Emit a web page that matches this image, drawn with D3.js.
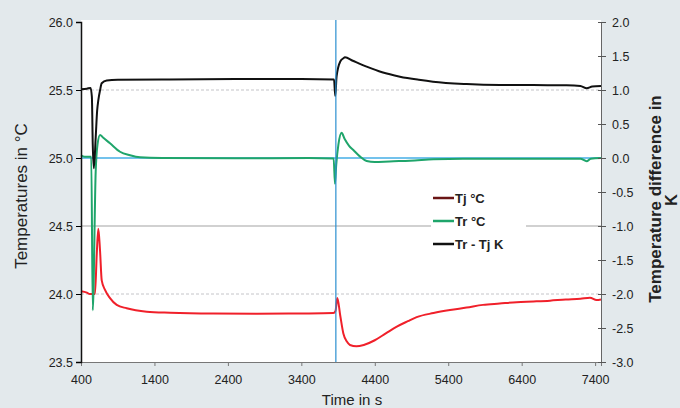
<!DOCTYPE html>
<html lang="en">
<head>
<meta charset="utf-8">
<script src="https://cdn.jsdelivr.net/npm/d3@7"></script>
<style>
  body { margin: 0; background: #e3e9ec; }
  text { font-family: "Liberation Sans", Arial, sans-serif; fill: #222; }
</style>
</head>
<body>
<script type="text/javascript">
  var w = 680;
  var h = 408;

  // time in s
  var xTicks = [400, 1400, 2400, 3400, 4400, 5400, 6400, 7400];
  var leftTicks = [23.5, 24.0, 24.5, 25.0, 25.5, 26.0];
  var rightTicks = [-3.0, -2.5, -2.0, -1.5, -1.0, -0.5, 0.0, 0.5, 1.0, 1.5, 2.0];
  var gridDashed = [25.5, 24.0];
  var gridSolid = [24.5];
  var baseLine = 25.0;
  var markerTime = 3870;

  // Tj in °C (left axis)
  var tjTime = [400, 480, 520, 590, 615, 636, 659, 682, 727, 795, 886, 1022, 1294, 1612, 2200, 2800, 3400, 3835, 3865, 3890, 3930, 3972, 4020, 4062, 4150, 4250, 4400, 4550, 4700, 4850, 4970, 5200, 5424, 5650, 5873, 6100, 6331, 6560, 6785, 7000, 7200, 7330, 7420, 7480];
  var tjVal  = [24.02, 24.01, 24.0, 24.0, 24.3, 24.48, 24.32, 24.1, 24.03, 23.97, 23.92, 23.895, 23.87, 23.862, 23.856, 23.855, 23.857, 23.86, 23.875, 23.97, 23.84, 23.71, 23.65, 23.625, 23.615, 23.625, 23.66, 23.71, 23.76, 23.8, 23.83, 23.86, 23.882, 23.9, 23.92, 23.93, 23.94, 23.945, 23.951, 23.96, 23.965, 23.973, 23.955, 23.96];

  // Tr in °C (left axis)
  var trTime = [400, 450, 540, 560, 600, 625, 659, 700, 795, 931, 1067, 1203, 1500, 2500, 3500, 3840, 3858, 3875, 3905, 3948, 3990, 4050, 4108, 4200, 4289, 4400, 4600, 4879, 5200, 5600, 6500, 7200, 7285, 7340, 7480];
  var trVal  = [25.02, 25.01, 25.01, 23.88, 24.9, 25.1, 25.17, 25.15, 25.108, 25.046, 25.02, 25.005, 25.0, 24.998, 25.0, 24.997, 24.81, 24.95, 25.1, 25.185, 25.14, 25.09, 25.059, 25.01, 24.978, 24.97, 24.975, 24.98, 24.99, 24.995, 24.995, 24.995, 24.976, 24.995, 25.0];

  // Tr - Tj in K (right axis)
  var dTime = [400, 480, 530, 548, 560, 575, 600, 620, 636, 660, 682, 750, 900, 1500, 2500, 3400, 3845, 3862, 3880, 3930, 3972, 3994, 4100, 4289, 4500, 4743, 5000, 5192, 5650, 6104, 6554, 7012, 7200, 7285, 7360, 7480];
  var dVal  = [1.01, 1.02, 1.03, 0.9, 0.2, -0.15, 0.3, 0.7, 0.85, 1.0, 1.1, 1.14, 1.15, 1.155, 1.16, 1.16, 1.155, 0.91, 1.2, 1.42, 1.466, 1.48, 1.43, 1.343, 1.26, 1.196, 1.15, 1.122, 1.088, 1.074, 1.072, 1.069, 1.06, 1.025, 1.05, 1.06];

  var legendNames = ["Tj  °C", "Tr °C", "Tr - Tj  K"];
  var colors = ["#f0202a", "#1fa56b", "#111111"];
  var legendColors = ["#6a1515", "#1fa56b", "#111111"];

  var mLeft = 81, mRight = 601, mTop = 22, mBottom = 362;

  var svg = d3.select("body")
          .append("svg")
          .attr("width", w)
          .attr("height", h);

  var x = d3.scaleLinear().domain([400, 7480]).range([mLeft, mRight]);
  var yL = d3.scaleLinear().domain([23.5, 26.0]).range([mBottom, mTop]);
  var yR = d3.scaleLinear().domain([-3.0, 2.0]).range([mBottom, mTop]);

  // plot area
  svg.append("rect")
    .attr("x", mLeft).attr("y", mTop - 2)
    .attr("width", mRight - mLeft).attr("height", mBottom - mTop + 2)
    .attr("fill", "#fff");

  svg.selectAll("line.gd")
    .data(gridDashed)
    .join("line")
    .attr("class", "gd")
    .attr("x1", mLeft).attr("x2", mRight)
    .attr("y1", d => yL(d)).attr("y2", d => yL(d))
    .attr("stroke", "#c4c4c8")
    .attr("stroke-dasharray", "3,2");

  svg.selectAll("line.gs")
    .data(gridSolid)
    .join("line")
    .attr("class", "gs")
    .attr("x1", mLeft).attr("x2", mRight)
    .attr("y1", d => yL(d)).attr("y2", d => yL(d))
    .attr("stroke", "#c2c2c2")
    .attr("stroke-width", 1.5);

  svg.append("line")
    .attr("x1", mLeft).attr("x2", mRight)
    .attr("y1", yL(baseLine)).attr("y2", yL(baseLine))
    .attr("stroke", "#45aee6")
    .attr("stroke-width", 1.5);

  function zip(t, v) { return t.map((d, i) => [d, v[i]]); }

  var lineL = d3.line().x(d => x(d[0])).y(d => yL(d[1])).curve(d3.curveMonotoneX);
  var lineR = d3.line().x(d => x(d[0])).y(d => yR(d[1])).curve(d3.curveMonotoneX);

  svg.append("path").datum(zip(tjTime, tjVal))
    .attr("d", lineL).attr("fill", "none")
    .attr("stroke", colors[0]).attr("stroke-width", 2);
  svg.append("path").datum(zip(trTime, trVal))
    .attr("d", lineL).attr("fill", "none")
    .attr("stroke", colors[1]).attr("stroke-width", 2);
  svg.append("path").datum(zip(dTime, dVal))
    .attr("d", lineR).attr("fill", "none")
    .attr("stroke", colors[2]).attr("stroke-width", 2);

  // marker line
  svg.append("line")
    .attr("x1", x(markerTime)).attr("x2", x(markerTime))
    .attr("y1", mTop - 2).attr("y2", mBottom)
    .attr("stroke", "#2a8fd0")
    .attr("stroke-width", 1.2);

  // legend
  var lg = svg.append("g").attr("transform", "translate(431,187)");
  lg.append("rect").attr("width", 95).attr("height", 68).attr("fill", "#fff");
  var rows = lg.selectAll("g").data(legendNames).join("g")
    .attr("transform", (d, i) => `translate(0,${11 + i * 23})`);
  rows.append("line")
    .attr("x1", 2).attr("x2", 23)
    .attr("stroke", (d, i) => legendColors[i])
    .attr("stroke-width", 2.5);
  rows.append("text")
    .attr("x", 24).attr("dy", "0.36em")
    .style("font-size", "13px").style("font-weight", "bold")
    .text(d => d);

  // axes
  var ax = svg.append("g")
    .attr("transform", `translate(0,${mBottom})`)
    .call(d3.axisBottom(x).tickValues(xTicks).tickSize(4).tickPadding(9).tickFormat(d3.format("d")));
  ax.select(".domain").attr("stroke", "#777");
  ax.selectAll(".tick line").attr("stroke", "#777");

  var al = svg.append("g")
    .attr("transform", `translate(${mLeft},0)`)
    .call(d3.axisLeft(yL).tickValues(leftTicks).tickSize(5).tickPadding(3).tickFormat(d3.format(".1f")));
  al.select(".domain").attr("stroke", "#111").attr("stroke-width", 1.5);

  var ar = svg.append("g")
    .attr("transform", `translate(${mRight},0)`)
    .call(d3.axisRight(yR).tickValues(rightTicks).tickSize(5).tickPadding(6).tickFormat(d3.format(".1f")));
  ar.select(".domain").attr("stroke", "#666");
  ar.selectAll(".tick line").attr("stroke", "#555").attr("x1", -3);

  svg.selectAll(".tick text")
    .style("font-family", "'Liberation Sans Narrow', 'Liberation Sans', Arial, sans-serif")
    .style("font-size", "12.5px")
    .attr("fill", "#222");
  svg.selectAll(".tick text").text(function () { return d3.select(this).text().replace("−", "-"); });

  // titles
  svg.append("text")
    .attr("transform", "translate(27,196) rotate(-90)")
    .attr("text-anchor", "middle")
    .style("font-size", "17px")
    .text("Temperatures in °C");

  svg.append("text")
    .attr("transform", "translate(661,199) rotate(-90)")
    .attr("text-anchor", "middle")
    .style("font-size", "17px").style("font-weight", "bold")
    .text("Temperature difference in");
  svg.append("text")
    .attr("transform", "translate(677,200) rotate(-90)")
    .attr("text-anchor", "middle")
    .style("font-size", "16px").style("font-weight", "bold")
    .text("K");

  svg.append("text")
    .attr("x", 352).attr("y", 405)
    .attr("text-anchor", "middle")
    .style("font-size", "15px")
    .text("Time in s");
</script>
</body>
</html>
